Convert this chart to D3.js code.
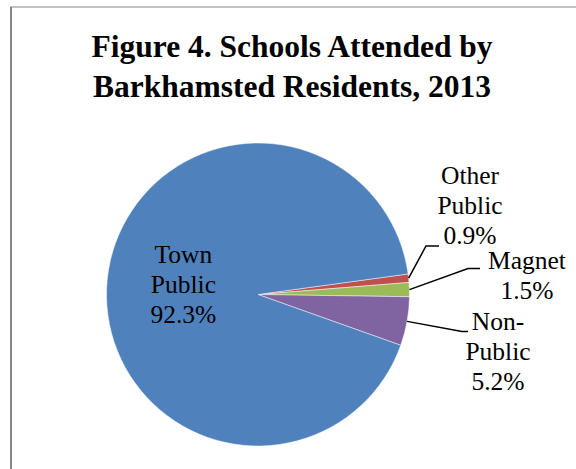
<!DOCTYPE html>
<html>
<head>
<meta charset="utf-8">
<script src="https://cdn.jsdelivr.net/npm/d3@7"></script>
<style>
  html, body { margin: 0; padding: 0; background: #fff; }
  svg { display: block; }
</style>
</head>
<body>
<svg class="chart"></svg>
<script>
// schools attended, percent of residents
var categories = ["Other Public", "Magnet", "Non-Public", "Town Public"];
var shares = [0.9, 1.5, 5.2, 92.3];
var nameLines = [["Other", "Public"], ["Magnet"], ["Non-", "Public"], ["Town", "Public"]];
var colors = ["#C0504D", "#9BBB59", "#8064A2", "#4F81BD"];

var width = 576;
var height = 469;

var chart = d3.select(".chart").attr("width", width).attr("height", height);

// frame (only left and top edges show in the crop)
chart.append("line").attr("x1", 11).attr("y1", 7).attr("x2", 11).attr("y2", height)
  .attr("stroke", "#888").attr("stroke-width", 2);
chart.append("line").attr("x1", 10).attr("y1", 7).attr("x2", width).attr("y2", 7)
  .attr("stroke", "#888").attr("stroke-width", 1.2);

// title
var title = chart.append("text")
  .attr("font-family", "Liberation Serif")
  .attr("text-anchor", "middle")
  .attr("font-weight", "bold")
  .attr("font-size", "31.5px")
  .attr("fill", "#000");
title.append("tspan").attr("x", 292).attr("y", 57).text("Figure 4. Schools Attended by");
title.append("tspan").attr("x", 292).attr("y", 97).text("Barkhamsted Residents, 2013");

var cx = 258, cy = 294.5, r = 151.5;

var pie = d3.pie().sort(null).value(function(d) { return d; })
  .startAngle(82.2 * Math.PI / 180)
  .endAngle((82.2 + 360) * Math.PI / 180);
var arcs = pie(shares);

var arc = d3.arc().innerRadius(0).outerRadius(r);
var edge = d3.arc().innerRadius(r).outerRadius(r);
var inner = d3.arc().innerRadius(75).outerRadius(75);

var g = chart.append("g").attr("transform", "translate(" + cx + "," + cy + ")");

g.selectAll("path.slice")
  .data(arcs)
  .enter().append("path")
  .attr("class", "slice")
  .attr("d", arc)
  .attr("fill", function(d, i) { return colors[i]; })
  .attr("stroke", "#fff")
  .attr("stroke-opacity", 0.6)
  .attr("stroke-width", 0.8);

var fmt = function(v) { return d3.format(".1f")(v) + "%"; };

// label placement, relative to pie centre
var place = [
  { elbow: [168, -48.5], end: [181, -48.5], tx: 212, ty: -110.5 },
  { elbow: [210, -26], end: [222, -26], tx: 269, ty: -25.5 },
  { elbow: [204, 37], end: [210, 37], tx: 240, ty: 35.5 },
  null
];

var lh = 30;

arcs.forEach(function(d, i) {
  var lines = nameLines[i].concat([fmt(shares[i])]);
  var p = place[i];
  var x0, y0;
  if (p) {
    var s = edge.centroid(d);
    g.append("polyline")
      .attr("points", [s, p.elbow, p.end].map(function(q) { return q.join(","); }).join(" "))
      .attr("fill", "none")
      .attr("stroke", "#000")
      .attr("stroke-width", 1.5);
    x0 = p.tx; y0 = p.ty;
  } else {
    var c = inner.centroid(d);
    x0 = c[0]; y0 = c[1] - 23.5;
  }
  var t = g.append("text")
    .attr("font-family", "Liberation Serif")
    .attr("text-anchor", "middle")
    .attr("font-size", "25.5px")
    .attr("fill", "#000");
  lines.forEach(function(l, k) {
    t.append("tspan").attr("x", x0).attr("y", y0 + k * lh).text(l);
  });
});
</script>
</body>
</html>
